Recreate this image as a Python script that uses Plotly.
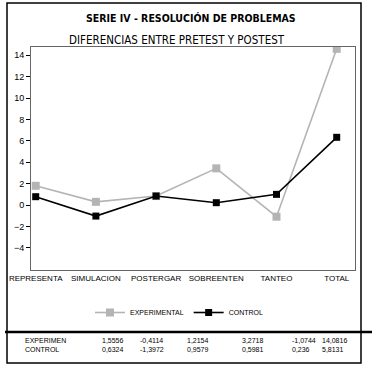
import plotly.graph_objects as go

categories = ["REPRESENTA", "SIMULACION", "POSTERGAR", "SOBREENTEN", "TANTEO", "TOTAL"]
experimental = [1.8, 0.3, 0.84, 3.43, -1.09, 14.6]
control = [0.78, -1.03, 0.84, 0.22, 1.0, 6.33]
y_ticks = [-4, -2, 0, 2, 4, 6, 8, 10, 12, 14]

table_rows = ["EXPERIMEN", "CONTROL"]
table_experimental = ["1,5556", "-0,4114", "1,2154", "3,2718", "-1,0744", "14,0816"]
table_control = ["0,6324", "-1,3972", "0,9579", "0,5981", "0,236", "5,8131"]

W, H = 372, 371
def px(x):
    return x / W
def py(y):
    return 1 - y / H

TITLE_FONT = "DejaVu Sans Condensed, Liberation Sans Narrow, Arial Narrow, sans-serif"

fig = go.Figure()
fig.add_trace(go.Scatter(
    x=categories, y=experimental, name="EXPERIMENTAL", mode="lines+markers",
    line=dict(color="#b4b4b4", width=1.6),
    marker=dict(symbol="square", size=8, color="#b4b4b4"),
))
fig.add_trace(go.Scatter(
    x=categories, y=control, name="CONTROL", mode="lines+markers",
    line=dict(color="#000000", width=1.6),
    marker=dict(symbol="square", size=7, color="#000000"),
))

shapes = []
shapes.append(dict(type="rect", xref="paper", yref="paper",
                   x0=px(7), x1=px(361), y0=py(332), y1=py(3),
                   line=dict(color="#000", width=1.5)))
shapes.append(dict(type="line", xref="paper", yref="paper",
                   x0=px(5), x1=px(372), y0=py(332), y1=py(332),
                   line=dict(color="#000", width=2.5)))
shapes.append(dict(type="rect", xref="paper", yref="paper",
                   x0=px(7), x1=px(361), y0=py(363), y1=py(332),
                   line=dict(color="#000", width=1.5)))

annotations = []
annotations.append(dict(text="<b>SERIE IV - RESOLUCIÓN DE PROBLEMAS</b>", xref="paper", yref="paper",
                        x=px(191), y=py(18), xanchor="center", yanchor="middle", showarrow=False,
                        font=dict(family=TITLE_FONT, size=10.5, color="#000")))
annotations.append(dict(text="DIFERENCIAS ENTRE PRETEST Y POSTEST", xref="paper", yref="paper",
                        x=px(177), y=py(40), xanchor="center", yanchor="middle", showarrow=False,
                        font=dict(family=TITLE_FONT, size=11.5, color="#000")))

col_x = [100, 138, 185, 240, 290, 320]
for row_i, (label, vals) in enumerate(zip(table_rows, [table_experimental, table_control])):
    yy = 340 + row_i * 9
    annotations.append(dict(text=label, xref="paper", yref="paper", x=px(23), y=py(yy),
                            xanchor="left", yanchor="middle", showarrow=False,
                            font=dict(family="Arial, Liberation Sans, sans-serif", size=7, color="#000")))
    for cx, v in zip(col_x, vals):
        annotations.append(dict(text=v, xref="paper", yref="paper", x=px(cx), y=py(yy),
                                xanchor="left", yanchor="middle", showarrow=False,
                                font=dict(family="Arial, Liberation Sans, sans-serif", size=7, color="#000")))

fig.update_layout(
    width=W, height=H, autosize=False,
    margin=dict(l=0, r=0, t=0, b=0, pad=0),
    paper_bgcolor="white", plot_bgcolor="white",
    font=dict(family="Arial, Liberation Sans, sans-serif", color="#000"),
    xaxis=dict(domain=[px(31), px(355)], type="category", range=[-0.078, 5.304],
               showgrid=False, zeroline=False, ticks="", showline=True, linecolor="#666",
               mirror=True, tickfont=dict(size=8), anchor="y", automargin=False),
    yaxis=dict(domain=[py(270), py(47)], range=[-6.07, 14.77], tickvals=y_ticks,
               showgrid=False, zeroline=False, ticks="outside", ticklen=4, tickcolor="#000",
               showline=True, linecolor="#666", mirror=True, tickfont=dict(size=9), anchor="x",
               automargin=False),
    legend=dict(orientation="h", x=px(90), y=py(298), xanchor="left", yanchor="top",
                font=dict(size=7), itemwidth=30, bgcolor="rgba(0,0,0,0)"),
    shapes=shapes, annotations=annotations, showlegend=True,
)

fig.write_html("out.html", config={"displayModeBar": False},
               post_script="document.body.style.margin='0';")
